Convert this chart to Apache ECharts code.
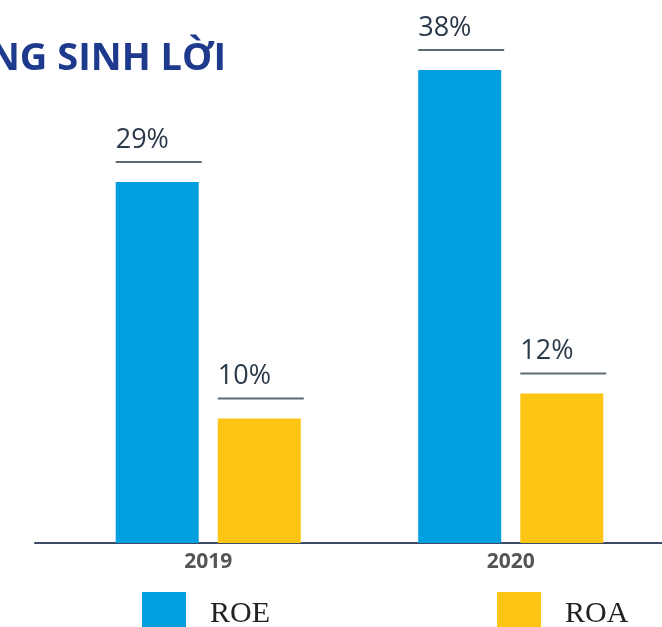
<!DOCTYPE html>
<html>
<head>
<meta charset="utf-8">
<style>
    html, body { margin: 0; padding: 0; background: #ffffff; }
    #chart { width: 662px; height: 627px; }
</style>
<script src="https://cdn.jsdelivr.net/npm/echarts@6/dist/echarts.min.js"></script>
</head>
<body>
<div id="chart"></div>
<script>
    // số liệu
    const years = ['2019', '2020'];
    const roe = [29, 38];
    const roa = [10, 12];
    const seriesNames = ['ROE', 'ROA'];

    const myChart = echarts.init(document.getElementById('chart'));

    function barLabel() {
        return {
            show: true,
            position: [0, -19],
            align: 'left',
            verticalAlign: 'bottom',
            formatter: p => '{v|' + p.value + '%}\n{hr|}',
            rich: {
                v: {
                    fontFamily: 'Open Sans',
                    fontSize: 27,
                    color: '#2b3a4a',
                    lineHeight: 30,
                    padding: [0, 0, 12, 0]
                },
                hr: {
                    backgroundColor: '#5f6b73',
                    width: 86,
                    height: 2
                }
            }
        };
    }

    myChart.setOption({
        backgroundColor: '#ffffff',
        animation: false,
        color: ['#009fdf', '#fdc513'],
        title: {
            text: 'KHẢ NĂNG SINH LỜI',
            right: 436,
            top: 40,
            padding: 0,
            textStyle: {
                fontFamily: 'Open Sans',
                fontWeight: 'bold',
                fontSize: 38,
                color: '#1e3a8c'
            }
        },
        legend: {
            data: seriesNames,
            left: 142,
            top: 592,
            padding: 0,
            itemWidth: 44,
            itemHeight: 44,
            itemGap: 227,
            icon: 'rect',
            selectedMode: false,
            textStyle: {
                fontFamily: 'Liberation Serif',
                fontSize: 30,
                color: '#222222',
                padding: [0, 0, 0, 19]
            }
        },
        grid: [{
            left: 57,
            right: 0,
            top: 45,
            bottom: 84
        }, {
            left: 35,
            right: 0,
            top: 45,
            bottom: 84
        }],
        xAxis: [{
            type: 'category',
            data: years,
            gridIndex: 0,
            axisTick: { show: false },
            axisLine: { show: false },
            axisLabel: {
                margin: 9,
                fontFamily: 'Open Sans',
                fontWeight: 'bold',
                fontSize: 21,
                color: '#555555'
            }
        }, {
            type: 'value',
            gridIndex: 1,
            axisTick: { show: false },
            axisLabel: { show: false },
            splitLine: { show: false },
            axisLine: {
                show: true,
                lineStyle: { color: '#3c4a68', width: 2 }
            }
        }],
        yAxis: [{
            type: 'value',
            gridIndex: 0,
            min: 0,
            max: 40,
            show: false
        }, {
            type: 'value',
            gridIndex: 1,
            show: false
        }],
        series: [{
            name: seriesNames[0],
            type: 'bar',
            barWidth: 83,
            barGap: '23%',
            data: roe,
            label: barLabel()
        }, {
            name: seriesNames[1],
            type: 'bar',
            barWidth: 83,
            barGap: '23%',
            data: roa,
            label: barLabel()
        }]
    });

    window.addEventListener('resize', () => {
        myChart.resize();
    });
</script>
</body>
</html>
